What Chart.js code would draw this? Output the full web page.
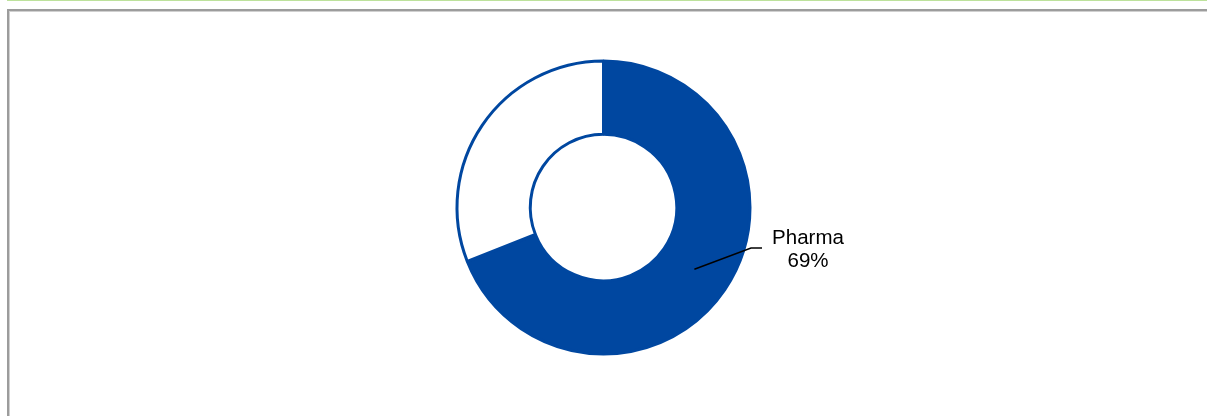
<!DOCTYPE html>
<html lang="en">
<head>
    <meta charset="UTF-8">
    <title>Pharma share</title>
    <style>
        body {
            margin: 0;
            padding: 0;
            width: 1207px;
            height: 416px;
            overflow: hidden;
            background: #ffffff;
            position: relative;
            font-family: Arial, "Liberation Sans", sans-serif;
        }

        /* thin green rule along the top */
        .topline {
            position: absolute;
            left: 7px;
            top: 0;
            width: 1200px;
            height: 1px;
            background: #bde29c;
        }

        /* grey frame, runs off the right and bottom edges */
        .frame {
            position: absolute;
            left: 7px;
            top: 9px;
            width: 1300px;
            height: 500px;
            border-left: 2px solid #9c9c9c;
            border-top: 2px solid #9c9c9c;
            box-shadow: inset 1px 1px 0 #d0d0d0;
        }

        #chartBox {
            position: absolute;
            left: 0;
            top: 0;
            width: 1207px;
            height: 416px;
        }
    </style>
</head>
<body>
    <div class="topline"></div>
    <div class="frame"></div>
    <div id="chartBox"><canvas id="myChart"></canvas></div>

    <script src="https://cdn.jsdelivr.net/npm/chart.js"></script>
    <script>
        const labels = ['Pharma', 'Other'];
        const values = [69, 31];
        const showLabel = [true, false];

        const blue = '#0047a0';

        // label with an elbow leader line, only for the Pharma slice
        const leaderLabels = {
            id: 'leaderLabels',
            afterDatasetsDraw(chart) {
                const ctx = chart.ctx;
                const meta = chart.getDatasetMeta(0);
                meta.data.forEach(function(arc, i) {
                    if (!showLabel[i]) return;
                    const p = arc.getProps(['x', 'y', 'outerRadius'], true);
                    const start = arc.tooltipPosition(true);
                    const elbowX = p.x + p.outerRadius + 1;
                    const elbowY = p.y + 40.5;
                    const endX = elbowX + 11;
                    const textX = p.x + p.outerRadius + 58;

                    ctx.save();
                    ctx.strokeStyle = '#000000';
                    ctx.lineWidth = 1.5;
                    ctx.beginPath();
                    ctx.moveTo(start.x, start.y);
                    ctx.lineTo(elbowX, elbowY);
                    ctx.lineTo(endX, elbowY);
                    ctx.stroke();

                    ctx.fillStyle = '#000000';
                    ctx.font = '20.5px Arial, "Liberation Sans", sans-serif';
                    ctx.textAlign = 'center';
                    ctx.textBaseline = 'alphabetic';
                    const total = values.reduce((a, b) => a + b, 0);
                    const pct = Math.round(values[i] / total * 100) + '%';
                    ctx.fillText(labels[i], textX, p.y + 36.5);
                    ctx.fillText(pct, textX, p.y + 59.5);
                    ctx.restore();
                });
            }
        };

        const ctx = document.getElementById('myChart').getContext('2d');
        new Chart(ctx, {
            type: 'doughnut',
            data: {
                labels: labels,
                datasets: [{
                    data: values,
                    backgroundColor: [blue, '#ffffff'],
                    borderColor: [blue, blue],
                    borderWidth: 3,
                    borderAlign: 'center'
                }]
            },
            options: {
                responsive: true,
                maintainAspectRatio: false,
                animation: false,
                cutout: '50%',
                rotation: 0,
                layout: {
                    padding: { top: 59.5, bottom: 60.5, left: 0, right: 0 }
                },
                plugins: {
                    legend: { display: false },
                    tooltip: { enabled: false }
                }
            },
            plugins: [leaderLabels]
        });
    </script>
</body>
</html>
